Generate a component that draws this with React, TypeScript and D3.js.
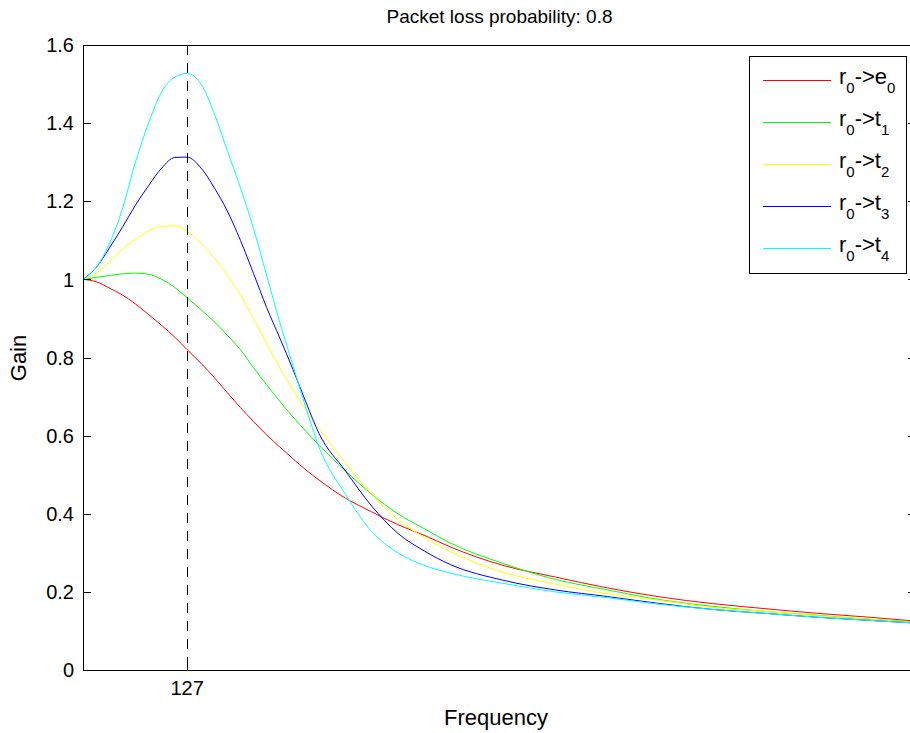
import React, { useEffect, useRef } from 'react'
import * as d3 from 'd3'

// frequency samples (bins) and gain
const freqs = [0, 16, 32, 48, 64, 80, 96, 112, 127, 144, 160, 176, 192, 208, 224, 240, 256, 272, 288, 320, 352, 384, 416, 448, 512, 576, 640, 704, 768, 832, 896, 960, 1016]

const e0 = [1.0, 0.994, 0.978, 0.96, 0.937, 0.91, 0.882, 0.852, 0.82, 0.785, 0.749, 0.71, 0.672, 0.636, 0.602, 0.571, 0.541, 0.512, 0.486, 0.44, 0.405, 0.372, 0.345, 0.315, 0.268, 0.238, 0.21, 0.187, 0.17, 0.157, 0.145, 0.135, 0.125]
const t1 = [1.0, 1.005, 1.01, 1.014, 1.016, 1.013, 1.0, 0.979, 0.953, 0.922, 0.892, 0.857, 0.82, 0.774, 0.73, 0.688, 0.648, 0.611, 0.575, 0.51, 0.45, 0.4, 0.362, 0.325, 0.273, 0.232, 0.205, 0.18, 0.163, 0.15, 0.14, 0.13, 0.123]
const t2 = [1.0, 1.015, 1.045, 1.078, 1.102, 1.124, 1.136, 1.137, 1.123, 1.092, 1.055, 1.01, 0.96, 0.9, 0.836, 0.774, 0.717, 0.664, 0.618, 0.53, 0.45, 0.385, 0.34, 0.303, 0.25, 0.22, 0.195, 0.178, 0.16, 0.15, 0.139, 0.13, 0.122]
const t3 = [1.0, 1.03, 1.08, 1.133, 1.19, 1.24, 1.285, 1.312, 1.313, 1.285, 1.235, 1.175, 1.1, 1.015, 0.928, 0.85, 0.77, 0.685, 0.605, 0.51, 0.42, 0.35, 0.305, 0.27, 0.23, 0.205, 0.188, 0.17, 0.155, 0.145, 0.135, 0.127, 0.12]
const t4 = [1.0, 1.03, 1.09, 1.18, 1.3, 1.4, 1.48, 1.518, 1.527, 1.5, 1.425, 1.33, 1.235, 1.13, 1.01, 0.89, 0.78, 0.67, 0.57, 0.45, 0.355, 0.3, 0.268, 0.248, 0.222, 0.2, 0.185, 0.168, 0.155, 0.145, 0.135, 0.127, 0.12]

const seriesNames = ['e', 't', 't', 't', 't']
const seriesSubs = ['0', '1', '2', '3', '4']
const seriesColors = ['#ff0000', '#00ff00', '#ffff00', '#0000ff', '#00ffff']
const seriesValues = [e0, t1, t2, t3, t4]

const yTicks = [0, 0.2, 0.4, 0.6, 0.8, 1, 1.2, 1.4, 1.6]
const xTicks = [127]
const marker = 127

const W = 910
const H = 733
const font = '"Liberation Sans", Arial, Helvetica, sans-serif'

export default function App () {
  const ref = useRef<SVGSVGElement>(null)

  useEffect(() => {
    const svg = d3.select(ref.current)
    svg.selectAll('*').remove()

    const left = 83, right = 916, top = 45, bottom = 670
    const x = d3.scaleLinear().domain([0, 1016]).range([left, right])
    const y = d3.scaleLinear().domain([0, 1.6]).range([bottom, top])

    svg.append('rect').attr('width', W).attr('height', H).attr('fill', '#fff')

    // curves
    const line = d3.line<number>().x((d, i) => x(freqs[i])).y(d => y(d)).curve(d3.curveMonotoneX)
    seriesValues.forEach((vals, k) => {
      svg.append('path').attr('d', line(vals))
        .attr('fill', 'none').attr('stroke', seriesColors[k]).attr('stroke-width', 1)
    })

    // dashed marker
    svg.append('line')
      .attr('x1', Math.round(x(marker)) + 0.5).attr('x2', Math.round(x(marker)) + 0.5)
      .attr('y1', top).attr('y2', bottom)
      .attr('stroke', '#000').attr('stroke-dasharray', '10,8').attr('stroke-width', 1)

    // box
    svg.append('rect')
      .attr('x', left + 0.5).attr('y', top + 0.5).attr('width', right - left).attr('height', bottom - top)
      .attr('fill', 'none').attr('stroke', '#000').attr('stroke-width', 1)

    // y ticks, both sides, pointing inward
    yTicks.forEach(t => {
      const yy = Math.round(y(t)) + 0.5
      svg.append('line').attr('x1', left).attr('x2', left + 8).attr('y1', yy).attr('y2', yy).attr('stroke', '#000')
      svg.append('line').attr('x1', right - 8).attr('x2', right).attr('y1', yy).attr('y2', yy).attr('stroke', '#000')
      svg.append('text')
        .attr('x', left - 9).attr('y', y(t)).attr('dy', '0.36em')
        .attr('text-anchor', 'end').attr('font-size', 20).attr('font-family', font)
        .text(d3.format('~g')(t))
    })

    xTicks.forEach(t => {
      const xx = Math.round(x(t)) + 0.5
      svg.append('line').attr('x1', xx).attr('x2', xx).attr('y1', bottom).attr('y2', bottom - 8).attr('stroke', '#000')
      svg.append('line').attr('x1', xx).attr('x2', xx).attr('y1', top).attr('y2', top + 8).attr('stroke', '#000')
      svg.append('text')
        .attr('x', x(t)).attr('y', bottom + 25)
        .attr('text-anchor', 'middle').attr('font-size', 20).attr('font-family', font)
        .text(t)
    })

    // labels
    svg.append('text')
      .attr('x', (left + right) / 2).attr('y', 23)
      .attr('text-anchor', 'middle').attr('font-size', 19).attr('font-family', font)
      .text('Packet loss probability: 0.8')
    svg.append('text')
      .attr('x', 496).attr('y', 725)
      .attr('text-anchor', 'middle').attr('font-size', 22).attr('font-family', font)
      .text('Frequency')
    svg.append('text')
      .attr('transform', 'translate(26,358) rotate(-90)')
      .attr('text-anchor', 'middle').attr('font-size', 22).attr('font-family', font)
      .text('Gain')

    // legend
    const lg = svg.append('g')
    lg.append('rect').attr('x', 749.5).attr('y', 56.5).attr('width', 157).attr('height', 217)
      .attr('fill', '#fff').attr('stroke', '#000')
    seriesNames.forEach((n, k) => {
      const ly = 80 + k * 42
      lg.append('line').attr('x1', 763).attr('x2', 831).attr('y1', ly + 0.5).attr('y2', ly + 0.5)
        .attr('stroke', seriesColors[k])
      const txt = lg.append('text').attr('x', 839).attr('y', ly + 4)
        .attr('font-size', 22).attr('font-family', font)
      txt.append('tspan').text('r')
      txt.append('tspan').attr('font-size', 15).attr('dy', 9).text('0')
      txt.append('tspan').attr('dy', -9).text('->' + n)
      txt.append('tspan').attr('font-size', 15).attr('dy', 9).text(seriesSubs[k])
    })
  }, [])

  return (
    <svg ref={ref} width={W} height={H}
      style={{ position: 'absolute', left: 0, top: 0, display: 'block' }} />
  )
}
